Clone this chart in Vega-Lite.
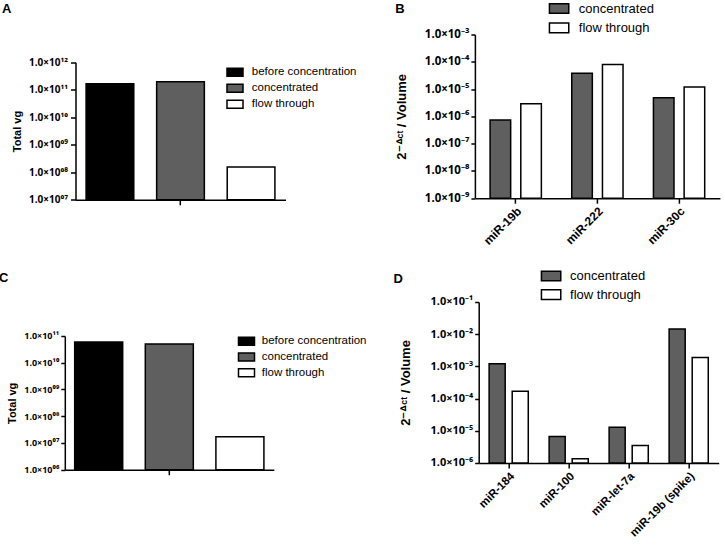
{
  "$schema": "https://vega.github.io/schema/vega-lite/v6.json",
  "background": "white",
  "padding": {"top": 0.5, "left": -1.2, "right": 0, "bottom": 0},
  "config": {
    "view": {"stroke": null},
    "font": "Liberation Sans",
    "axis": {"domainColor": "black", "domainWidth": 1.5, "tickColor": "black", "tickWidth": 1.5, "labelColor": "black", "titleColor": "black", "grid": false, "labelFont": "Noto Sans", "titleFont": "Liberation Sans", "labelFontWeight": "bold", "titleFontWeight": "bold"},
    "legend": {"labelFont": "Liberation Sans", "labelColor": "black", "padding": 0, "symbolStrokeColor": "black", "symbolStrokeWidth": 1.5, "symbolType": "M-1.5,-0.75H1.5V0.75H-1.5Z", "orient": "none", "symbolOpacity": 1},
    "title": {"font": "Liberation Sans", "fontWeight": "bold", "color": "black", "anchor": "start", "frame": "bounds"},
    "bar": {"stroke": "black", "strokeWidth": 1.5, "opacity": 1}
  },
  "datasets": {
    "A": [
      {"grp": "all", "series": "before concentration", "value": 1.65e11},
      {"grp": "all", "series": "concentrated", "value": 1.95e11},
      {"grp": "all", "series": "flow through", "value": 1.54e8}
    ],
    "B": [
      {"mirna": "miR-19b", "series": "concentrated", "value": 7.4e-7},
      {"mirna": "miR-19b", "series": "flow through", "value": 2.9e-6},
      {"mirna": "miR-222", "series": "concentrated", "value": 3.8e-5},
      {"mirna": "miR-222", "series": "flow through", "value": 7.9e-5},
      {"mirna": "miR-30c", "series": "concentrated", "value": 4.8e-6},
      {"mirna": "miR-30c", "series": "flow through", "value": 1.2e-5}
    ],
    "C": [
      {"grp": "all", "series": "before concentration", "value": 6.0e10},
      {"grp": "all", "series": "concentrated", "value": 5.0e10},
      {"grp": "all", "series": "flow through", "value": 1.7e7}
    ],
    "D": [
      {"mirna": "miR-184", "series": "concentrated", "value": 1.2e-3},
      {"mirna": "miR-184", "series": "flow through", "value": 1.7e-4},
      {"mirna": "miR-100", "series": "concentrated", "value": 6.7e-6},
      {"mirna": "miR-100", "series": "flow through", "value": 1.35e-6},
      {"mirna": "miR-let-7a", "series": "concentrated", "value": 1.3e-5},
      {"mirna": "miR-let-7a", "series": "flow through", "value": 3.5e-6},
      {"mirna": "miR-19b (spike)", "series": "concentrated", "value": 1.45e-2},
      {"mirna": "miR-19b (spike)", "series": "flow through", "value": 1.9e-3}
    ]
  },
  "spacing": 21.5,
  "resolve": {"scale": {"fill": "independent", "xOffset": "independent", "x": "independent", "y": "independent"}, "legend": {"fill": "independent"}},
  "vconcat": [
    {
      "spacing": 37.1,
      "resolve": {"scale": {"fill": "independent", "xOffset": "independent", "x": "independent", "y": "independent"}, "legend": {"fill": "independent"}},
      "hconcat": [
        {
          "data": {"name": "A"},
          "title": {"text": "A", "fontSize": 13, "offset": 18.5, "dx": -9.4},
          "width": 220.7,
          "height": 165.3,
          "mark": {"type": "bar"},
          "encoding": {
            "x": {"field": "grp", "type": "nominal", "scale": {"range": [10.7, 220.7], "paddingInner": 0, "paddingOuter": 0}, "axis": {"title": null, "labels": false, "ticks": true, "tickSize": 5}},
            "xOffset": {"field": "series", "type": "nominal", "sort": ["before concentration", "concentrated", "flow through"], "scale": {"paddingInner": 0.324, "paddingOuter": 0.15}},
            "y": {"field": "value", "type": "quantitative", "scale": {"type": "log", "domain": [1e7, 1e12], "range": [165.3, 27.7], "nice": false}, "axis": {"title": "Total vg", "values": [1e7, 1e8, 1e9, 1e10, 1e11, 1e12], "labelExpr": "'1.0×10' + substring('⁰¹²³⁴⁵⁶⁷⁸⁹', floor(round(log(datum.value)/LN10)/10), floor(round(log(datum.value)/LN10)/10)+1) + substring('⁰¹²³⁴⁵⁶⁷⁸⁹', round(log(datum.value)/LN10)%10, round(log(datum.value)/LN10)%10+1)", "labelFontSize": 10, "titleFontSize": 11, "tickSize": 5, "labelPadding": 3, "offset": -10.7, "titlePadding": 6}},
            "y2": {"datum": 1e7},
            "fill": {"field": "series", "type": "nominal", "sort": ["before concentration", "concentrated", "flow through"], "scale": {"domain": ["before concentration", "concentrated", "flow through"], "range": ["#000000", "#5f5f5f", "#ffffff"]}, "legend": {"title": null, "legendX": 163.7, "legendY": 31.25, "labelFontSize": 11.5, "symbolSize": 114, "labelOffset": 10.3, "rowPadding": 1}}
          }
        },
        {
          "data": {"name": "B"},
          "title": {"text": "B", "fontSize": 13, "offset": -14.5, "dx": 0},
          "width": 245,
          "height": 163.7,
          "mark": {"type": "bar"},
          "encoding": {
            "x": {"field": "mirna", "type": "nominal", "sort": ["miR-19b", "miR-222", "miR-30c"], "scale": {"paddingInner": 0, "paddingOuter": 0}, "axis": {"title": null, "labelAngle": -45, "labelFontSize": 12, "labelFont": "Liberation Sans", "tickSize": 5, "labelPadding": 2}},
            "xOffset": {"field": "series", "type": "nominal", "sort": ["concentrated", "flow through"], "scale": {"paddingInner": 0.33, "paddingOuter": 0.495}},
            "y": {"field": "value", "type": "quantitative", "scale": {"type": "log", "domain": [1e-9, 1e-3], "nice": false}, "axis": {"title": "2⁻ᐞᶜᵗ / Volume", "values": [1e-9, 1e-8, 1e-7, 1e-6, 1e-5, 1e-4, 1e-3], "labelExpr": "'1.0×10⁻' + substring('⁰¹²³⁴⁵⁶⁷⁸⁹', -round(log(datum.value)/LN10), 1-round(log(datum.value)/LN10))", "labelFontSize": 11.5, "titleFontSize": 13, "tickSize": 4, "labelPadding": 2, "titlePadding": 16}},
            "y2": {"datum": 1e-9},
            "fill": {"field": "series", "type": "nominal", "scale": {"domain": ["concentrated", "flow through"], "range": ["#5f5f5f", "#ffffff"]}, "legend": {"title": null, "legendX": 76.7, "legendY": -33.5, "labelFontSize": 13, "symbolSize": 166, "labelOffset": 12.2, "rowPadding": 2.4}}
          }
        }
      ]
    },
    {
      "spacing": 24.9,
      "resolve": {"scale": {"fill": "independent", "xOffset": "independent", "x": "independent", "y": "independent"}, "legend": {"fill": "independent"}},
      "hconcat": [
        {
          "data": {"name": "C"},
          "title": {"text": "C", "fontSize": 13, "offset": 16.5, "dx": -7.7},
          "width": 209,
          "height": 167.7,
          "mark": {"type": "bar"},
          "encoding": {
            "x": {"field": "grp", "type": "nominal", "scale": {"paddingInner": 0, "paddingOuter": 0}, "axis": {"title": null, "labels": false, "ticks": true, "tickSize": 5}},
            "xOffset": {"field": "series", "type": "nominal", "sort": ["before concentration", "concentrated", "flow through"], "scale": {"paddingInner": 0.32, "paddingOuter": 0.14}},
            "y": {"field": "value", "type": "quantitative", "scale": {"type": "log", "domain": [1e6, 1e11], "range": [167.7, 34], "nice": false}, "axis": {"title": "Total vg", "values": [1e6, 1e7, 1e8, 1e9, 1e10, 1e11], "labelExpr": "'1.0×10' + substring('⁰¹²³⁴⁵⁶⁷⁸⁹', floor(round(log(datum.value)/LN10)/10), floor(round(log(datum.value)/LN10)/10)+1) + substring('⁰¹²³⁴⁵⁶⁷⁸⁹', round(log(datum.value)/LN10)%10, round(log(datum.value)/LN10)%10+1)", "labelFontSize": 9, "titleFontSize": 11, "tickSize": 4, "labelPadding": 2, "titlePadding": 6}},
            "y2": {"datum": 1e6},
            "fill": {"field": "series", "type": "nominal", "scale": {"domain": ["before concentration", "concentrated", "flow through"], "range": ["#000000", "#5f5f5f", "#ffffff"]}, "legend": {"title": null, "legendX": 175.2, "legendY": 32.75, "labelFontSize": 11.5, "symbolSize": 114, "labelOffset": 8.8, "rowPadding": 0.8}}
          }
        },
        {
          "data": {"name": "D"},
          "title": {"text": "D", "fontSize": 13, "offset": -18, "dx": -5.5},
          "width": 240,
          "height": 161,
          "mark": {"type": "bar"},
          "encoding": {
            "x": {"field": "mirna", "type": "nominal", "sort": ["miR-184", "miR-100", "miR-let-7a", "miR-19b (spike)"], "scale": {"paddingInner": 0, "paddingOuter": 0}, "axis": {"title": null, "labelAngle": -45, "labelFontSize": 11.5, "labelFont": "Liberation Sans", "tickSize": 5, "labelPadding": 2}},
            "xOffset": {"field": "series", "type": "nominal", "sort": ["concentrated", "flow through"], "scale": {"paddingInner": 0.304, "paddingOuter": 0.452}},
            "y": {"field": "value", "type": "quantitative", "scale": {"type": "log", "domain": [1e-6, 1e-1], "nice": false}, "axis": {"title": "2⁻ᐞᶜᵗ / Volume", "values": [1e-6, 1e-5, 1e-4, 1e-3, 1e-2, 1e-1], "labelExpr": "'1.0×10⁻' + substring('⁰¹²³⁴⁵⁶⁷⁸⁹', -round(log(datum.value)/LN10), 1-round(log(datum.value)/LN10))", "labelFontSize": 11, "titleFontSize": 13, "tickSize": 4, "labelPadding": 2, "titlePadding": 18}},
            "y2": {"datum": 1e-6},
            "fill": {"field": "series", "type": "nominal", "scale": {"domain": ["concentrated", "flow through"], "range": ["#5f5f5f", "#ffffff"]}, "legend": {"title": null, "legendX": 64.9, "legendY": -33.5, "labelFontSize": 13, "symbolSize": 166, "labelOffset": 11.5, "rowPadding": 1.6}}
          }
        }
      ]
    }
  ]
}
